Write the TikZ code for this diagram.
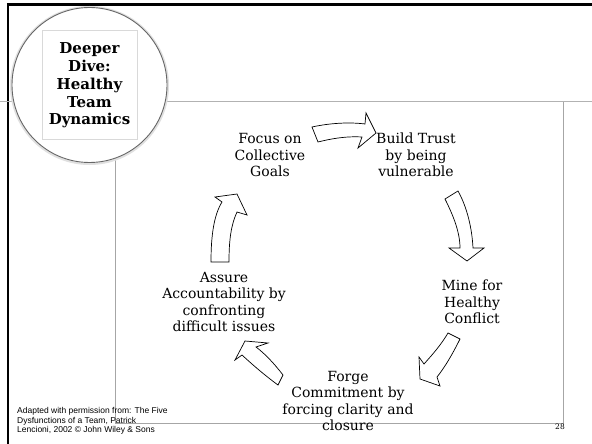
\documentclass[tikz,border=0pt]{standalone}
\usepackage{fontspec}
\setmainfont{DejaVu Serif}
\newfontfamily\citefont{Liberation Sans}
\begin{document}
\begin{tikzpicture}[x=1pt,y=-1pt,
  lbl/.style={align=center,font=\fontsize{14}{16.6}\selectfont,inner sep=0pt},
  titlelbl/.style={align=center,font=\fontsize{15}{17.8}\selectfont\bfseries,inner sep=0pt},
  blockarrow/.style={draw=black,fill=white,line width=0.7pt,line join=miter},
  frameline/.style={line width=2.4pt,black},
  panel/.style={draw=black!35,line width=1pt}]
\useasboundingbox (0,0) rectangle (592,444);
\fill[white] (0,0) rectangle (592,444);
% frame
\draw[frameline] (6.8,4.5) -- (592,4.5);
\draw[frameline] (8,3.3) -- (8,444);
\draw[black!30,line width=1.5pt] (0,101.5) -- (592,101.5);
\draw[panel] (563,102.2) -- (563,423) -- (115,423) -- (115,150);
% title circle
\draw[black!12,line width=2pt] (89.5,85.5) circle[radius=78.5pt];
\draw[black!60,fill=white,line width=0.9pt] (89.5,85) circle[radius=77.5pt];
\draw[black!15,line width=0.8pt] (42,30) rectangle (137,139);
\node[titlelbl] (title) at (89.5,85.5) {Deeper\\Dive:\\Healthy\\Team\\Dynamics};
% labels
\node[lbl] (focus) at (270,155) {Focus on\\Collective\\Goals};
\node[lbl] (trust) at (416,155) {Build Trust\\by being\\vulnerable};
\node[lbl] (conflict) at (472,302) {Mine for\\Healthy\\Conflict};
\node[lbl] (commit) at (348,401) {Forge\\Commitment by\\forcing clarity and\\closure};
\node[lbl] (account) at (224,302) {Assure\\Accountability by\\confronting\\difficult issues};
% block arrows
\draw[blockarrow] (312,127) .. controls (330,123) and (350,122) .. (365,124)
  -- (366,113) -- (376,133) -- (358,148) -- (362,137)
  .. controls (345,136) and (330,139) .. (318,142) -- cycle;
\draw[blockarrow] (445,199) .. controls (453,215) and (460,232) .. (460,248)
  -- (449,248) -- (467,261) -- (484,248) -- (473,248)
  .. controls (472,228) and (467,207) .. (458,191) -- cycle;
\draw[blockarrow] (448,333) -- (460,339) .. controls (452,355) and (445,367) .. (437,377)
  -- (440,386) -- (420,379) -- (419,357) -- (424,364)
  .. controls (432,355) and (441,345) .. (448,333) -- cycle;
\draw[blockarrow] (283,375) .. controls (273,362) and (264,353) .. (256,347)
  -- (268,343) -- (245,341) -- (235,360) -- (242,355)
  .. controls (255,367) and (267,377) .. (278,385) -- cycle;
\draw[blockarrow] (211,262) .. controls (211,235) and (214,215) .. (222,202)
  -- (215,197) -- (237,194) -- (247,215) -- (237,212)
  .. controls (231,225) and (229,240) .. (229,262) -- cycle;
% citation and page number
\node[anchor=west,align=left,inner sep=0pt,font=\citefont\fontsize{8.5}{9.6}\selectfont] (cite) at (17,421)
  {Adapted with permission from: The Five\\Dysfunctions of a Team, Patrick\\Lencioni, 2002 \textcopyright{} John Wiley \& Sons};
\node[inner sep=0pt,font=\fontsize{7.5}{9}\selectfont] (page) at (560,427) {28};
\end{tikzpicture}
\end{document}
